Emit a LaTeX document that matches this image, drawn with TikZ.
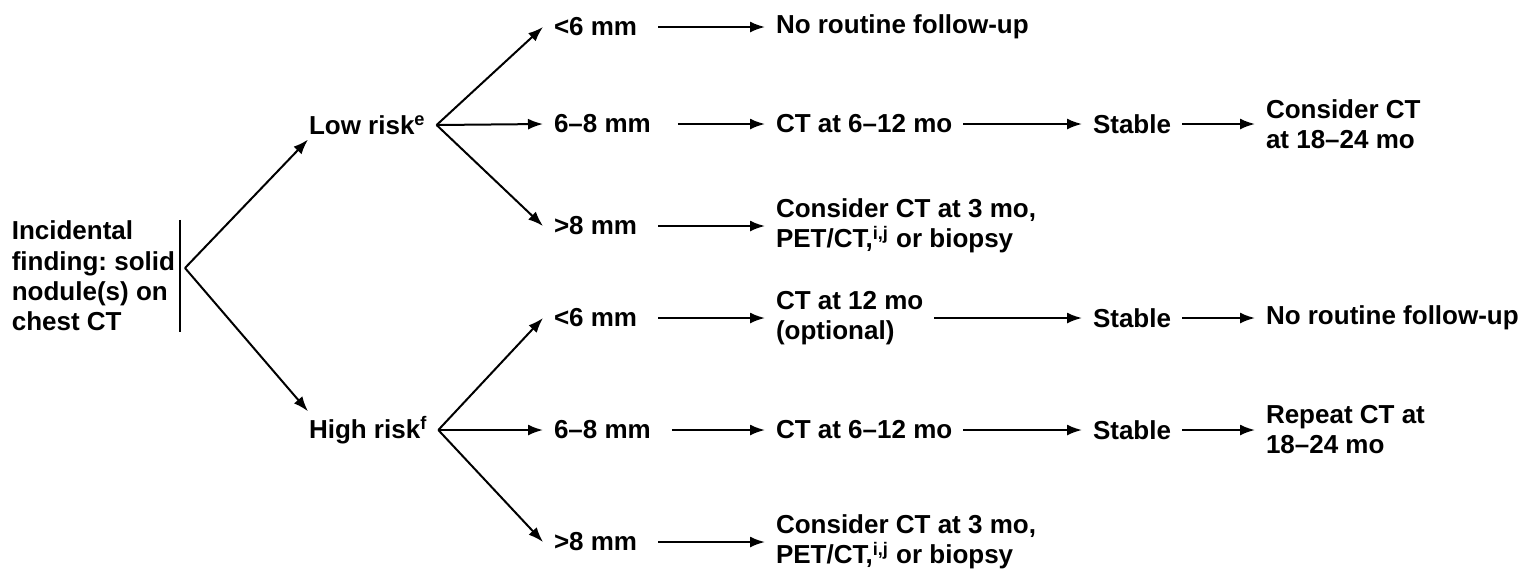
\documentclass[tikz,border=0pt]{standalone}
\usepackage{fontspec}
\setmainfont{Liberation Sans}
\usetikzlibrary{arrows.meta}

\begin{document}
\begin{tikzpicture}[
                x=0.5pt, y=-0.5pt,
                font=\bfseries\fontsize{13}{15}\selectfont,
                line width=1pt,
                >={Latex[length=7.5pt,width=5.5pt]},
                % Stile per le voci di testo
                voce/.style={
                    anchor=west,
                    align=left,
                    inner xsep=5pt,
                    inner ysep=2pt
                },
                % Freccia con spazio dopo la misura
                dopo/.style={->, shorten <=5pt}
            ]
                \useasboundingbox (0,0) rectangle (1525,570);

                % --- Reperto iniziale ---
                \node[anchor=east, align=left, inner xsep=2pt, inner ysep=0pt,
                      font=\bfseries\fontsize{13}{15.2}\selectfont\frenchspacing]
                    (find) at (180,276) {Incidental\\finding: solid\\nodule(s) on\\chest CT};
                \draw (find.north east) -- (find.south east);
                \coordinate (split) at (185,268);

                % --- Classi di rischio ---
                \node[voce] (low) at (298,125) {Low risk\textsuperscript{e}};
                \node[voce] (high) at (298,430) {High risk\textsuperscript{f}};
                \draw[->] (split) -- ([xshift=5pt]low.south west);
                \draw[->] (split) -- ([xshift=5pt]high.north west);

                % --- Dimensioni (rischio basso) ---
                \node[voce] (l1) at (543,27) {<6 mm};
                \node[voce] (l2) at (543,124) {6--8 mm};
                \node[voce] (l3) at (543,226) {>8 mm};
                \draw[->] (low.east) -- (l1.west);
                \draw[->] (low.east) -- (l2.west);
                \draw[->] (low.east) -- (l3.west);

                % --- Dimensioni (rischio alto) ---
                \node[voce] (h1) at (543,318) {<6 mm};
                \node[voce] (h2) at (543,430) {6--8 mm};
                \node[voce] (h3) at (543,542) {>8 mm};
                \draw[->] (high.east) -- (h1.west);
                \draw[->] (high.east) -- (h2.west);
                \draw[->] (high.east) -- (h3.west);

                % --- Esami (rischio basso) ---
                \node[voce] (l1a) at (765,27) {No routine follow-up};
                \node[voce] (l2a) at (765,124) {CT at 6--12 mo};
                \node[voce] (l3a) at (765,226) {Consider CT at 3 mo,\\PET/CT,\textsuperscript{i,j} or biopsy};
                \draw[dopo] (l1.east) -- (l1a.west);
                \draw[dopo, shorten <=8pt] (l2.east) -- (l2a.west);
                \draw[dopo] (l3.east) -- (l3a.west);

                % --- Esami (rischio alto) ---
                \node[voce] (h1a) at (765,318) {CT at 12 mo\\(optional)};
                \node[voce] (h2a) at (765,430) {CT at 6--12 mo};
                \node[voce] (h3a) at (765,542) {Consider CT at 3 mo,\\PET/CT,\textsuperscript{i,j} or biopsy};
                \draw[dopo] (h1.east) -- (h1a.west);
                \draw[dopo] (h2.east) -- (h2a.west);
                \draw[dopo] (h3.east) -- (h3a.west);

                % --- Stabile ---
                \node[voce] (l2b) at (1082,124) {Stable};
                \node[voce] (h1b) at (1082,318) {Stable};
                \node[voce] (h2b) at (1082,430) {Stable};
                \draw[->] (l2a.east) -- (l2b.west);
                \draw[->] (h1a.east) -- (h1b.west);
                \draw[->] (h2a.east) -- (h2b.west);

                % --- Controlli finali ---
                \node[voce] (l2c) at (1255,124) {Consider CT\\at 18--24 mo};
                \node[voce] (h1c) at (1255,318) {No routine follow-up};
                \node[voce] (h2c) at (1255,430) {Repeat CT at\\18--24 mo};
                \draw[->] (l2b.east) -- (l2c.west);
                \draw[->] (h1b.east) -- (h1c.west);
                \draw[->] (h2b.east) -- (h2c.west);

            \end{tikzpicture}
\end{document}
